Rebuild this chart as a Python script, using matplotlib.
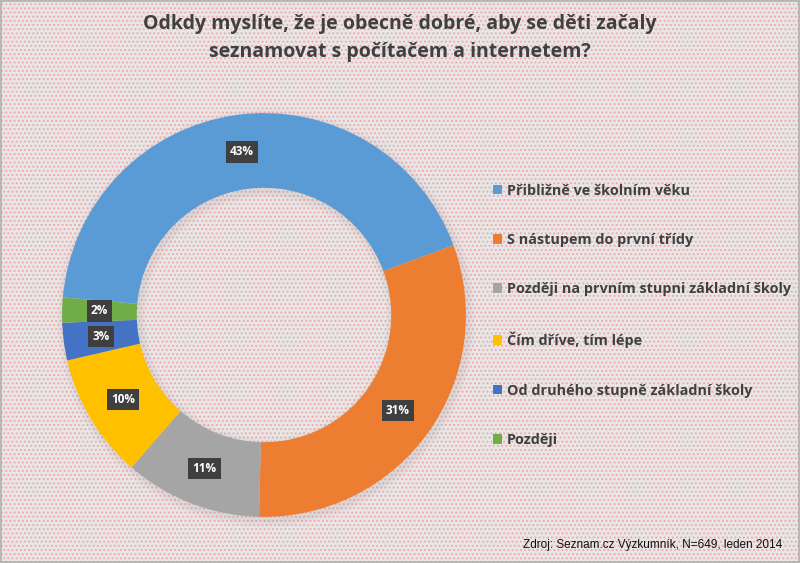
import matplotlib
matplotlib.use("Agg")
import matplotlib.pyplot as plt
import numpy as np
from matplotlib.patches import Rectangle

# data
categories = [
    "Přibližně ve školním věku",
    "S nástupem do první třídy",
    "Později na prvním stupni základní školy",
    "Čím dříve, tím lépe",
    "Od druhého stupně základní školy",
    "Později",
]
shares = [43, 31, 11, 10, 3, 2]
colors = ["#5B9BD5", "#ED7D31", "#A5A5A5", "#FFC000", "#4472C4", "#70AD47"]

title = "Odkdy myslíte, že je obecně dobré, aby se děti začaly\nseznamovat s počítačem a internetem?"
source = "Zdroj: Seznam.cz Výzkumník, N=649, leden 2014"

plt.rcParams["font.family"] = ["Open Sans", "DejaVu Sans"]
plt.rcParams["hatch.linewidth"] = 0.9

fig = plt.figure(figsize=(8, 5.63), dpi=100)
fig.patch.set_facecolor("#ebe6e6")

# patterned background with a thin frame
bg = Rectangle((0, 0), 1, 1, transform=fig.transFigure, facecolor="#e8e6e6",
               edgecolor="#efaaaa", hatch="....", linewidth=0, zorder=-10)
fig.patches.append(bg)
frame = Rectangle((0.001, 0.001), 0.998, 0.998, transform=fig.transFigure,
                  facecolor="none", edgecolor="#b0b0b0", linewidth=1.2, zorder=10)
fig.patches.append(frame)

# centre (264, 315) px, radius 202 px
ax = fig.add_axes([(264 - 212) / 800, (563 - 315 - 212) / 563, 424 / 800, 424 / 563])
ax.set_facecolor("none")

# soft shadow behind the ring
for i, a in enumerate([0.05, 0.04, 0.03]):
    ax.pie([1], radius=1.0 + 0.012 * (i + 1), colors=["#777777"],
           wedgeprops=dict(width=0.37 + 0.024 * (i + 1), alpha=a, linewidth=0),
           center=(0.01, -0.015))

wedges, _ = ax.pie(shares, colors=colors, startangle=175, counterclock=False,
                   radius=1.0, wedgeprops=dict(width=0.37, linewidth=0))

for w, v in zip(wedges, shares):
    mid = np.deg2rad((w.theta1 + w.theta2) / 2)
    r = 1.0 - 0.37 / 2
    ax.text(r * np.cos(mid), r * np.sin(mid), f"{v}%", ha="center", va="center",
            color="white", fontsize=8.5, fontweight="bold",
            bbox=dict(boxstyle="square,pad=0.35", facecolor="#3f3f3f",
                      edgecolor="none"))

ax.set_xlim(-1.05, 1.05)
ax.set_ylim(-1.05, 1.05)
ax.set_aspect("equal")
ax.axis("off")

fig.text(0.5, 0.932, title, ha="center", va="center", fontsize=14,
         fontweight="bold", color="#404040", linespacing=1.55)

leg = fig.legend(wedges, categories, loc="upper left",
                 bbox_to_anchor=(0.6, 0.697), frameon=False,
                 fontsize=10.4, labelspacing=2.45, handlelength=0.65,
                 handleheight=0.65, handletextpad=0.3)
for t in leg.get_texts():
    t.set_color("#404040")
    t.set_fontweight("bold")

fig.text(0.978, 0.032, source, ha="right", va="center", fontsize=8.5,
         color="#111111", family="Liberation Sans")

fig.savefig("out.png", dpi=100, facecolor=fig.get_facecolor())
